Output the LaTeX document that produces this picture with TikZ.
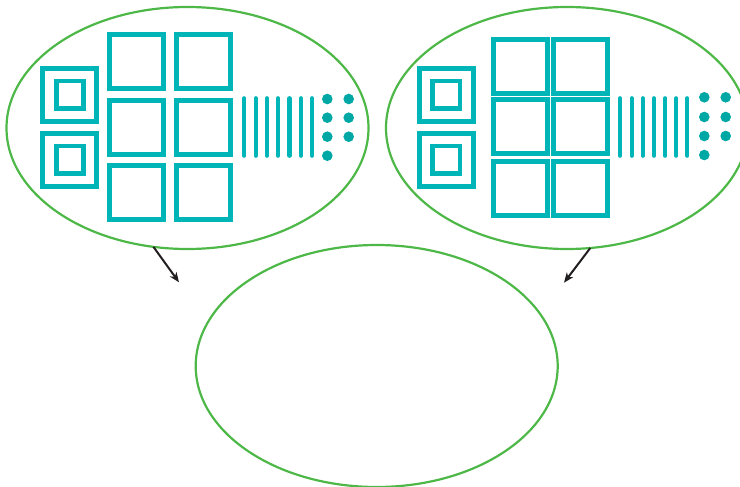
\documentclass[tikz,border=0pt]{standalone}
\usetikzlibrary{arrows.meta,shapes.geometric}
\definecolor{grn}{RGB}{77,184,72}
\definecolor{tealA}{RGB}{0,181,184}
\definecolor{tealB}{RGB}{0,168,165}
\definecolor{ink}{RGB}{35,31,32}
\begin{document}
\begin{tikzpicture}[x=1pt,y=-1pt,
  bubble/.style={ellipse,draw=grn,line width=2.2pt,minimum width=362pt,minimum height=242pt,inner sep=0pt,outer sep=0pt},
  bigbox/.style={draw=tealA,line width=5pt},
  inbox/.style={draw=tealA,line width=4.7pt},
  bar/.style={draw=tealA,line width=4.3pt,line cap=round},
  dotfill/.style={fill=tealB},
  arr/.style={draw=ink,line width=2pt,-{Stealth[length=10pt,width=8pt,inset=3pt]}}]
\useasboundingbox (0,0) rectangle (740,487);

\node[bubble] (L) at (187.5,128) {};
\node[bubble] (R) at (567,128) {};
\node[bubble] (B) at (376.7,366) {};

% left contents
\foreach \y in {68.2,133.2}{
  \draw[bigbox] (42.8,\y) rectangle ++(53.7,53.5);
  \draw[inbox] (56.4,\y+12.8) rectangle ++(27.2,27.2);
}
\foreach \x in {109.8,176.5}{
  \foreach \y in {34.5,100.2,165.8}{
    \draw[bigbox] (\x,\y) rectangle ++(54,54);
  }
}
\foreach \x in {244.3,255.7,266.9,278.2,289.5,300.8,312}{
  \draw[bar] (\x,98.3) -- (\x,155.7);
}
\foreach \y in {99,117.7,136.7,155.7}{\fill[dotfill] (327.3,\y) circle (5.3pt);}
\foreach \y in {99,117.7,136.7}{\fill[dotfill] (348.7,\y) circle (5.3pt);}

% right contents
\foreach \y in {68.2,133.2}{
  \draw[bigbox] (419.5,\y) rectangle ++(53.7,53.5);
  \draw[inbox] (432.8,\y+12.8) rectangle ++(27.2,27.2);
}
\foreach \x in {493.2,553.2}{
  \foreach \y in {39.8,99.8,161.2}{
    \draw[bigbox] (\x,\y) rectangle ++(54,54);
  }
}
\foreach \x in {620,631.7,642.7,654,665.3,676.3,687.3}{
  \draw[bar] (\x,98.3) -- (\x,155.7);
}
\foreach \y in {97.3,117,136,155}{\fill[dotfill] (704.3,\y) circle (5.3pt);}
\foreach \y in {97.3,117,136}{\fill[dotfill] (725.7,\y) circle (5.3pt);}

% arrows
\coordinate (la) at (179,282.3);
\coordinate (ra) at (564,282.7);
\draw[arr] (L.-106) -- (la);
\draw[arr] (R.-79.6) -- (ra);
\end{tikzpicture}
\end{document}
